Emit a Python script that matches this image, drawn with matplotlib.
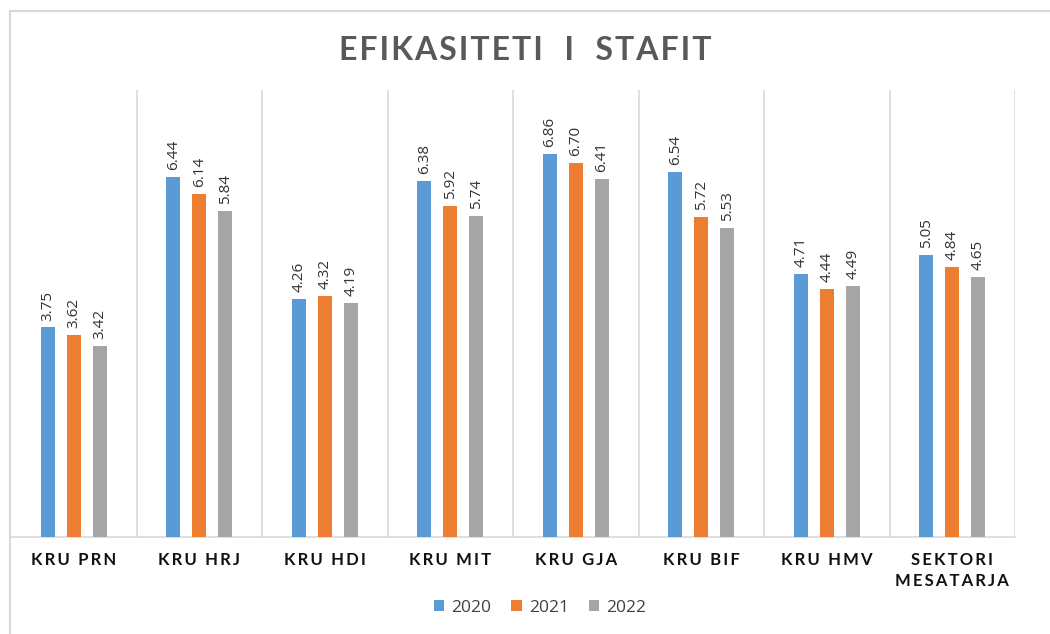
import numpy as np
import matplotlib
matplotlib.use("Agg")
import matplotlib.pyplot as plt
from matplotlib.patches import Rectangle

# chart data
categories = ["KRU PRN", "KRU HRJ", "KRU HDI", "KRU MIT", "KRU GJA", "KRU BIF", "KRU HMV", "SEKTORI\nMESATARJA"]
years = ["2020", "2021", "2022"]
vals_2020 = [3.75, 6.44, 4.26, 6.38, 6.86, 6.54, 4.71, 5.05]
vals_2021 = [3.62, 6.14, 4.32, 5.92, 6.70, 5.72, 4.44, 4.84]
vals_2022 = [3.42, 5.84, 4.19, 5.74, 6.41, 5.53, 4.49, 4.65]

COLORS = ["#5B9BD5", "#ED7D31", "#A5A5A5"]
GRID = "#D9D9D9"
TS = "\u2009"  # thin space, fakes the letter spacing
HS = "\u200a"  # hair space
W, H = 1050, 634
AX_BOTTOM, AX_HEIGHT = 97, 447  # px


def spaced(s, sep=TS):
    return sep.join(s)


plt.rcParams["font.family"] = ["Open Sans", "DejaVu Sans"]

fig = plt.figure(figsize=(10.5, 6.34), dpi=100)
# outer chart frame
fig.patches.append(Rectangle((10 / W, -0.1), 1.2, 1 - 11 / H + 0.1,
                             transform=fig.transFigure, fill=False,
                             edgecolor=GRID, linewidth=1.5))

ax = fig.add_axes([11 / W, AX_BOTTOM / H, 1004 / W, AX_HEIGHT / H])

x = np.arange(len(categories))
step = 0.207
width = 0.112
series = [vals_2020, vals_2021, vals_2022]
for i, (vals, col, yr) in enumerate(zip(series, COLORS, years)):
    pos = x + (i - 1) * step
    bars = ax.bar(pos, vals, width=width, color=col, label=yr, zorder=3)
    for b, v in zip(bars, vals):
        ax.annotate(f"{v:.2f}", (b.get_x() + b.get_width() / 2, v),
                    xytext=(0, 5), textcoords="offset points",
                    rotation=90, ha="center", va="bottom",
                    fontsize=11, color="#333333")

ax.set_xlim(-0.5, len(categories) - 0.5)
ax.set_ylim(0, 8)
ax.set_yticks([])
ax.set_xticks([])

# category labels placed by baseline so every line sits at the same height
trans = ax.get_xaxis_transform()
for xi, cat in zip(x, categories):
    for k, line in enumerate(cat.split("\n")):
        y_px = 565 + 21 * k  # baseline, from top of image
        y_ax = (H - y_px - AX_BOTTOM) / AX_HEIGHT
        ax.text(xi, y_ax, spaced(line), transform=trans, clip_on=False,
                ha="center", va="baseline", fontsize=12, fontweight="bold",
                color="#111111", family=["Lato", "DejaVu Sans"])

# category separators
for b in np.arange(0.5, len(categories), 1.0):
    ax.axvline(b, color=GRID, linewidth=1.2, zorder=1)

for s in ["top", "right", "left"]:
    ax.spines[s].set_visible(False)
ax.spines["bottom"].set_color(GRID)
ax.spines["bottom"].set_linewidth(1.2)

fig.text(0.5, 1 - 50 / H, spaced("EFIKASITETI  I  STAFIT", HS), ha="center", va="center",
         fontsize=23, fontweight="bold", color="#595959", family=["Lato", "DejaVu Sans"])

fig.legend(loc="center", bbox_to_anchor=(540 / W, 1 - 608 / H), ncol=3, frameon=False,
           fontsize=12.5, handlelength=0.6, handleheight=0.6, handletextpad=0.4,
           columnspacing=1.15, labelcolor="#404040")

fig.savefig("out.png", dpi=100)
